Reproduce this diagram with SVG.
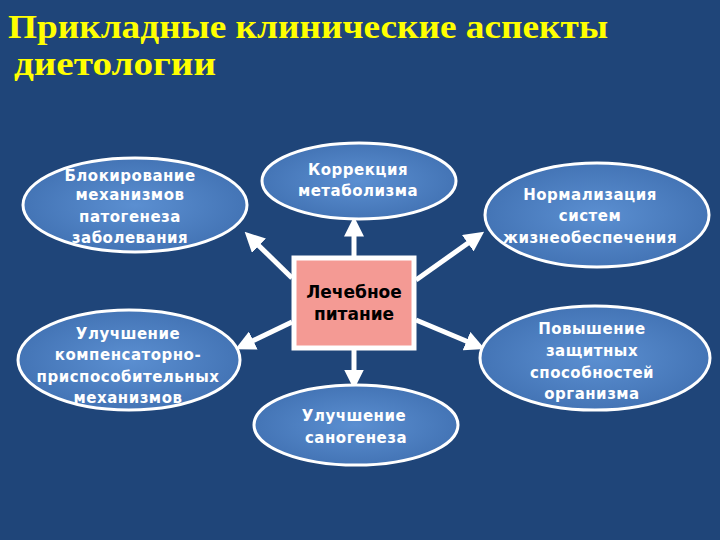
<svg xmlns="http://www.w3.org/2000/svg" width="720" height="540" viewBox="0 0 720 540">
<style>
.t{font-family:"DejaVu Sans",sans-serif;font-weight:bold;font-size:15px;fill:#fff;text-anchor:middle;letter-spacing:0.5px}
.e{fill:url(#g);stroke:#fff;stroke-width:3}
.ttl{font-family:"Liberation Serif",serif;font-weight:bold;font-size:33px;fill:#ffff00}
.c{stroke:#fff;stroke-width:5;fill:none;marker-end:url(#ah)}
</style>
<defs>
<radialGradient id="g" cx="0.5" cy="0.5" r="0.6"><stop offset="0" stop-color="#5b8fd1"/><stop offset="1" stop-color="#3f6fb0"/></radialGradient>
<marker id="ah" markerWidth="4" markerHeight="4" refX="2.5" refY="2" orient="auto"><path d="M0,0 L4,2 L0,4 z" fill="#fff"/></marker>
</defs>
<rect width="720" height="540" fill="#1f4579"/>
<text class="ttl" x="8" y="38" textLength="600" lengthAdjust="spacingAndGlyphs">Прикладные клинические аспекты</text>
<text class="ttl" x="14" y="75" textLength="202" lengthAdjust="spacingAndGlyphs">диетологии</text>
<g id="connectors">
<line class="c" x1="354" y1="256" x2="354" y2="224"/>
<line class="c" x1="354" y1="350" x2="354" y2="382"/>
<line class="c" x1="292" y1="278" x2="250" y2="237"/>
<line class="c" x1="416" y1="280" x2="478" y2="236"/>
<line class="c" x1="292" y1="322" x2="242" y2="346"/>
<line class="c" x1="416" y1="320" x2="478" y2="346"/>
</g>
<g id="n1"><ellipse class="e" cx="135" cy="205" rx="112" ry="47"/>
<text class="t" x="130" y="181">Блокирование</text><text class="t" x="130" y="200">механизмов</text><text class="t" x="130" y="222">патогенеза</text><text class="t" x="130" y="243">заболевания</text></g>
<g id="n2"><ellipse class="e" cx="359" cy="181" rx="97" ry="38"/>
<text class="t" x="358" y="175">Коррекция</text><text class="t" x="358" y="196">метаболизма</text></g>
<g id="n3"><ellipse class="e" cx="597" cy="215" rx="112" ry="52"/>
<text class="t" x="590" y="200">Нормализация</text><text class="t" x="590" y="221">систем</text><text class="t" x="590" y="243">жизнеобеспечения</text></g>
<g id="n4"><ellipse class="e" cx="129" cy="360" rx="111" ry="50"/>
<text class="t" x="128" y="339">Улучшение</text><text class="t" x="128" y="360">компенсаторно-</text><text class="t" x="128" y="382">приспособительных</text><text class="t" x="128" y="403">механизмов</text></g>
<g id="n5"><ellipse class="e" cx="356" cy="425" rx="102" ry="40"/>
<text class="t" x="354" y="421">Улучшение</text><text class="t" x="356" y="443">саногенеза</text></g>
<g id="n6"><ellipse class="e" cx="595" cy="358" rx="115" ry="52"/>
<text class="t" x="592" y="334">Повышение</text><text class="t" x="592" y="356">защитных</text><text class="t" x="592" y="378">способностей</text><text class="t" x="592" y="399">организма</text></g>
<g id="center"><rect x="294" y="258" width="120" height="90" fill="#f49a94" stroke="#fff" stroke-width="5"/>
<text x="354" y="298" style="font-family:'DejaVu Sans',sans-serif;font-weight:bold;font-size:17px;fill:#000;text-anchor:middle">Лечебное</text>
<text x="354" y="320" style="font-family:'DejaVu Sans',sans-serif;font-weight:bold;font-size:17px;fill:#000;text-anchor:middle">питание</text></g>
</svg>
